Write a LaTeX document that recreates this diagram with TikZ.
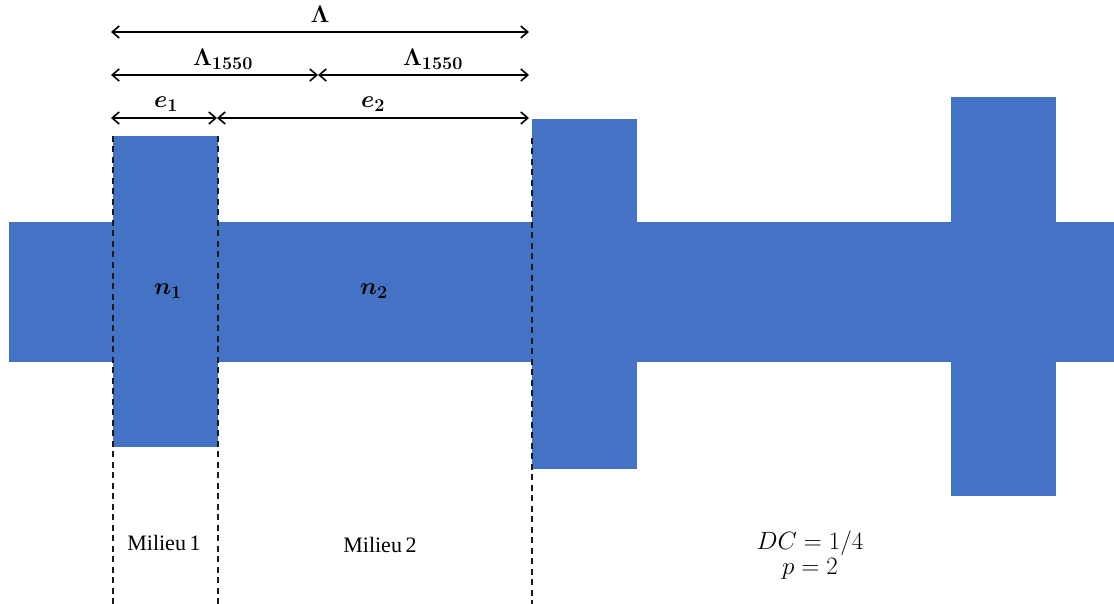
\documentclass[tikz,border=0pt]{standalone}
\usepackage{fix-cm}
\usepackage{fontspec}
\setmainfont{Liberation Serif}
\renewcommand\defaultscriptratio{.75}
\usetikzlibrary{arrows.meta}
\definecolor{wgblue}{HTML}{4472C4}
\definecolor{dashgray}{HTML}{1A1A1A}
\begin{document}
\begin{tikzpicture}[x=1pt,y=-1pt,
  blk/.style={fill=wgblue,draw=none},
  dim/.style={draw=black,line width=1.6pt,{Straight Barb[length=7pt,width=12pt,line width=1.6pt]}-{Straight Barb[length=7pt,width=12pt,line width=1.6pt]}},
  guide/.style={draw=dashgray,line width=1.5pt,dash pattern=on 6pt off 4.5pt},
  mlab/.style={inner sep=0pt,font=\fontsize{24}{28}\selectfont\boldmath},
  tlab/.style={inner sep=0pt,font=\fontsize{22}{25}\selectfont},
  plab/.style={inner sep=0pt,font=\fontsize{25}{29}\selectfont,align=center}]
\useasboundingbox (0,0) rectangle (1114,604);
% waveguide
\fill[blk] (9,222) rectangle (1114,362);
\fill[blk] (113,136) rectangle (218,447);
\fill[blk] (532,119) rectangle (637,469);
\fill[blk] (951,97) rectangle (1056,496);
% guide coordinates
\coordinate (g1t) at (113,136);
\coordinate (g1b) at (113,604);
\coordinate (g2t) at (218,136);
\coordinate (g2b) at (218,604);
\coordinate (g3t) at (532,138);
\coordinate (g3b) at (532,604);
\draw[guide] (g1t) -- (g1b);
\draw[guide] (g2t) -- (g2b);
\draw[guide] (g3t) -- (g3b);
% dimension arrows
\coordinate (aL) at (111,32);
\coordinate (aR) at (529,32);
\coordinate (bL) at (111,75);
\coordinate (bM) at (318,75);
\coordinate (bR) at (529,75);
\coordinate (cL) at (111,118);
\coordinate (cM) at (217,118);
\coordinate (cR) at (529,118);
\draw[dim] (aL) -- (aR);
\draw[dim] (bL) -- (bM);
\draw[dim] (bM) -- (bR);
\draw[dim] (cL) -- (cM);
\draw[dim] (cM) -- (cR);
% labels
\node[mlab] (lam) at (320,14) {$\Lambda$};
\node[mlab] (lam1) at (223,59) {$\Lambda_{1550}$};
\node[mlab] (lam2) at (433,59) {$\Lambda_{1550}$};
\node[mlab] (e1) at (166,104) {$e_1$};
\node[mlab] (e2) at (373,104) {$e_2$};
\node[mlab] (n1) at (168,291) {$n_1$};
\node[mlab] (n2) at (374,291) {$n_2$};
\node[tlab] (m1) at (164,543) {Milieu\,1};
\node[tlab] (m2) at (380,545) {Milieu\,2};
\node[plab] (dc) at (810,555) {$DC = 1/4$\\[-4pt]$p = 2$};
\end{tikzpicture}
\end{document}
